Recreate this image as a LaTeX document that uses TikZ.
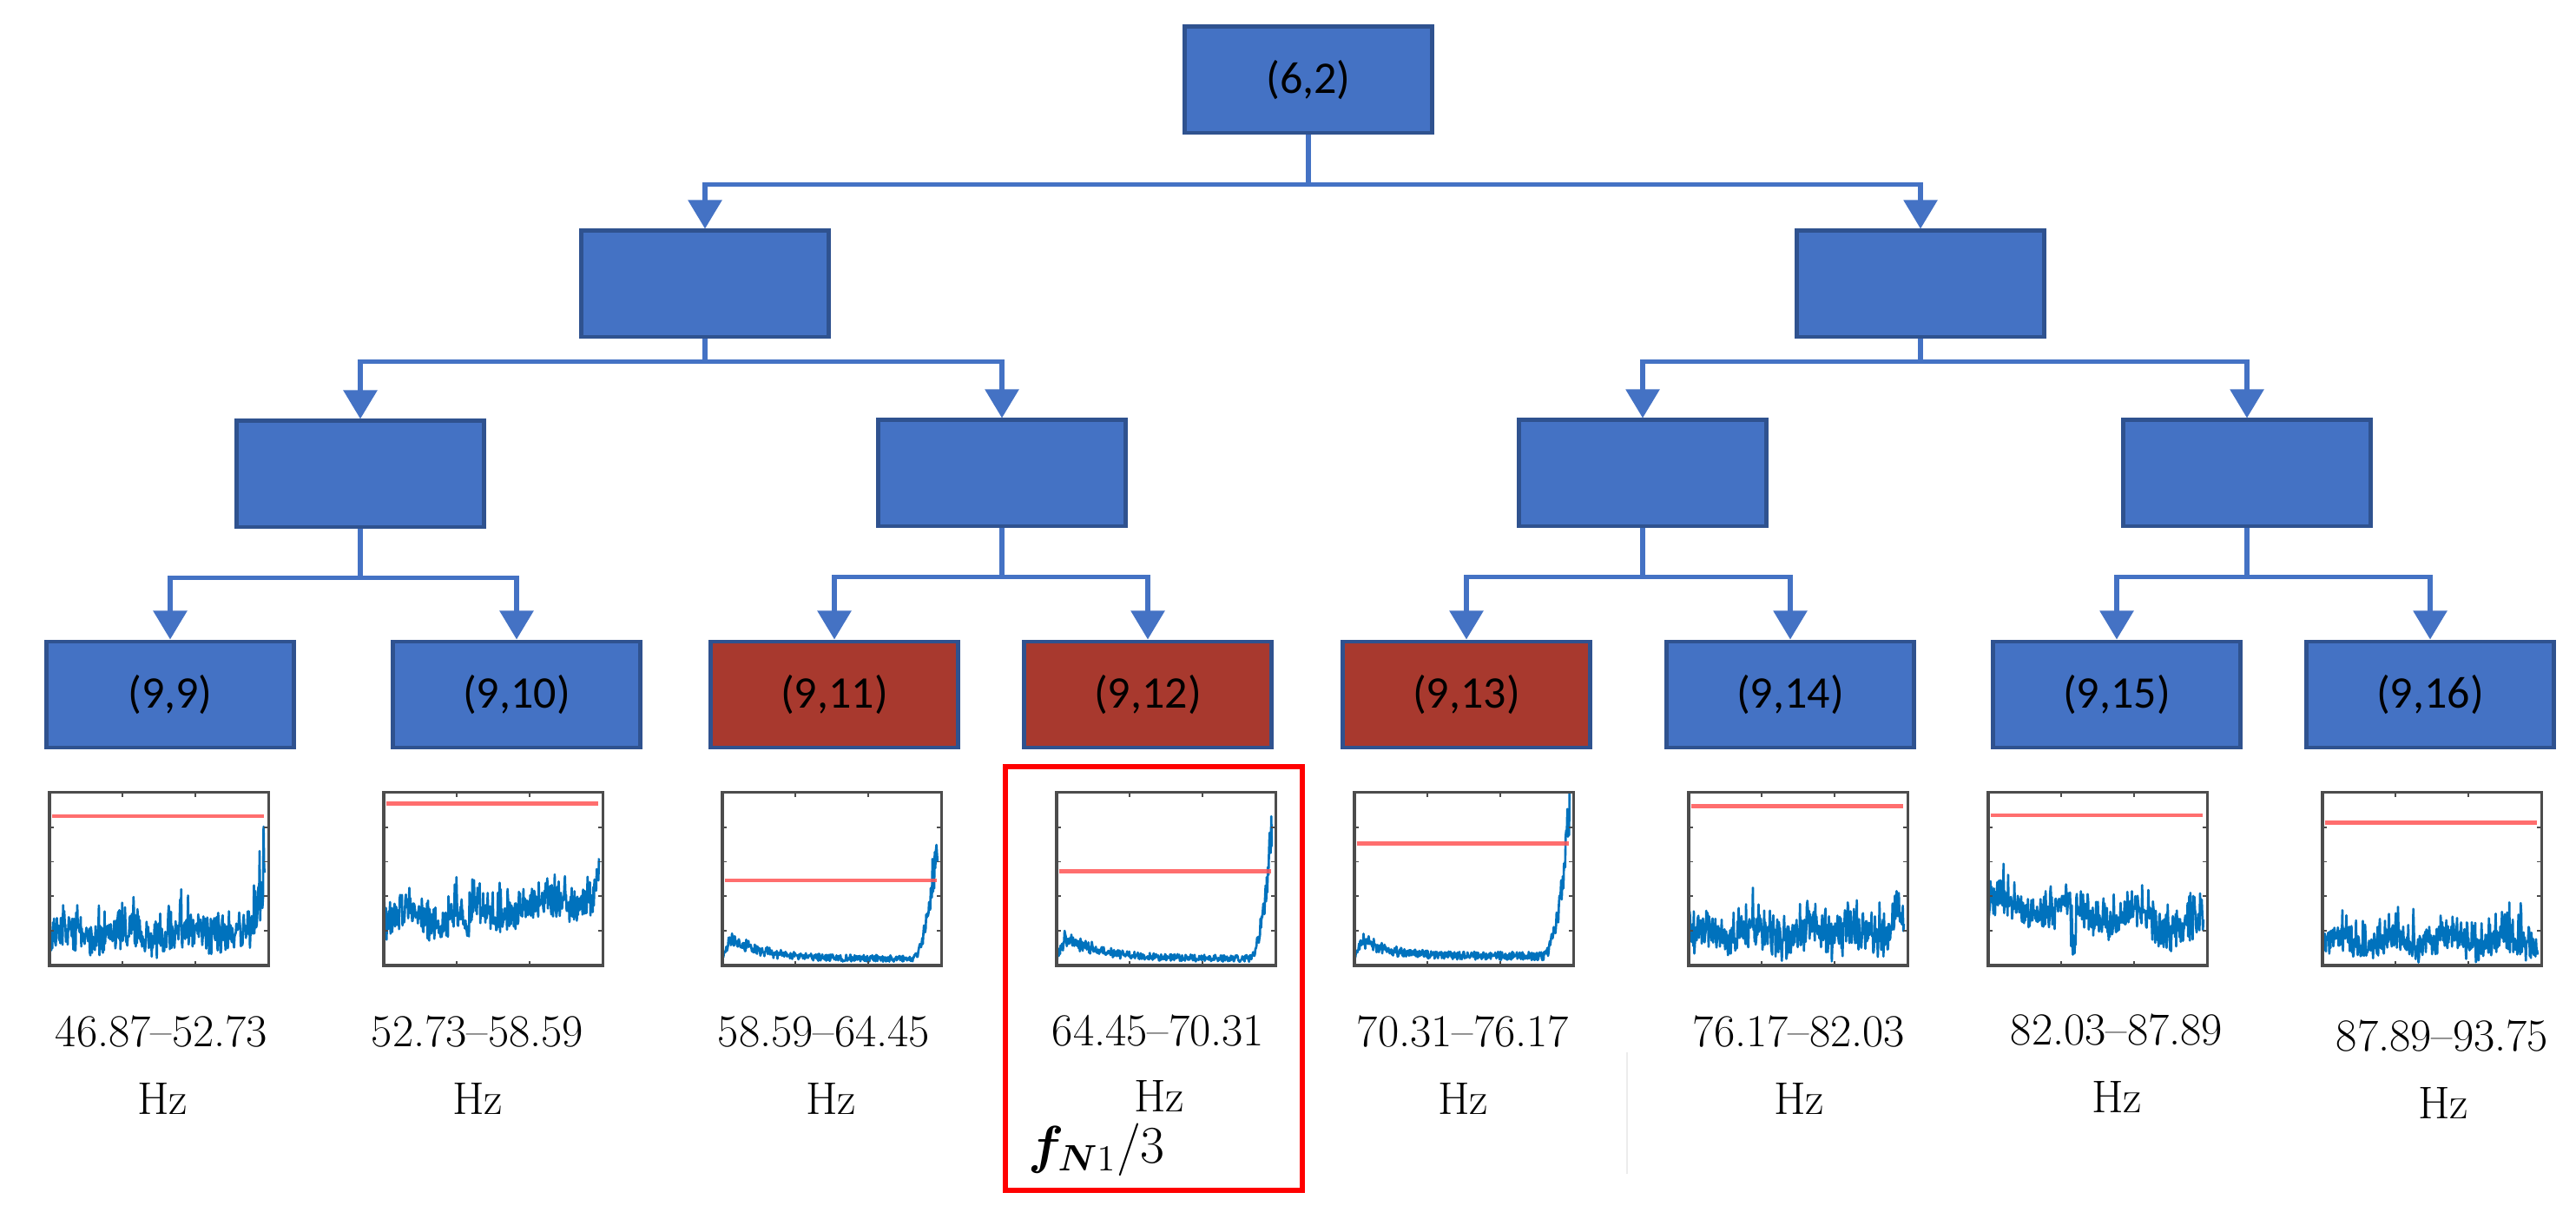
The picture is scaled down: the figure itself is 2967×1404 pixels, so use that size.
\documentclass[tikz,border=0pt]{standalone}
\usepackage{fontspec}
\usepackage{bm}
\newfontfamily\boxfont{Carlito}
\usetikzlibrary{arrows.meta}

\definecolor{boxblue}{RGB}{68,114,196}
\definecolor{boxedge}{RGB}{47,82,143}
\definecolor{boxred}{RGB}{168,57,46}
\definecolor{sigblue}{RGB}{0,114,189}
\definecolor{limred}{RGB}{255,85,85}

\begin{document}
\begin{tikzpicture}[x=0.01cm,y=-0.01cm,
	every node/.style={inner sep=0pt},
	band/.style={draw=boxedge,line width=1.4pt,fill=boxblue,minimum width=2.85cm,minimum height=1.22cm,font=\boxfont\fontsize{14.8}{18}\selectfont},
	link/.style={draw=boxblue,line width=1.6pt,-{Triangle[width=0.38cm,length=0.33cm]}},
	frame/.style={draw=black!70,line width=0.9pt},
	limit/.style={draw=limred,line width=1.4pt,opacity=0.85},
	sig/.style={draw=sigblue,line width=0.75pt,line join=round},
	freq/.style={font=\fontsize{15}{18}\selectfont}]

\useasboundingbox (0,0) rectangle (2967,1404);
\pgfmathsetseed{11}

% decomposition tree
\node[band](root) at (1507,92) {(6,2)};
\node[band](l1a) at (812,327) {};
\node[band](l1b) at (2212,327) {};
\node[band](l2a) at (415,546) {};
\node[band](l2b) at (1154,545) {};
\node[band](l2c) at (1892,545) {};
\node[band](l2d) at (2588,545) {};

\foreach \k/\nx/\fc in {9/196/boxblue,10/595/boxblue,11/961/boxred,12/1322/boxred,13/1689/boxred,14/2062/boxblue,15/2438/boxblue,16/2799/boxblue}{
	\node[band,fill=\fc](leaf\k) at (\nx,800) {(9,\k)};
}

\foreach \p/\c/\d in {root/l1a/57,root/l1b/57,l1a/l2a/26,l1a/l2b/26,l1b/l2c/26,l1b/l2d/26,
	l2a/leaf9/56,l2a/leaf10/56,l2b/leaf11/56,l2b/leaf12/56,l2c/leaf13/56,l2c/leaf14/56,l2d/leaf15/56,l2d/leaf16/56}{
	\draw[link] (\p.south) -- ++(0,\d) -| (\c.north);
}

% spectra of the leaves
\foreach \k/\px/\ry/\f in {
	9/57/0.864/{0.06+0.03*sin(\x*1300)+0.16*rnd+0.22*rnd*rnd+(\x>0.9)*(\x-0.9)*(\x-0.9)*(30+50*rnd)},
	10/442/0.935/{0.12+0.15*\x+0.04*sin(\x*1100)+0.18*rnd+0.2*rnd*rnd-(abs(\x-0.38)<0.01)*0.1+(\x>0.93)*(\x-0.93)*(\x-0.93)*(50+60*rnd)},
	11/832/0.492/{0.02+0.04*rnd+0.17*exp(-7*\x)*((\x<0.04)*25*\x+(\x>0.04))*(0.6+0.6*rnd)+(\x>0.87)*(\x-0.87)*(\x-0.87)*(40+30*rnd)},
	12/1217/0.543/{0.02+0.04*rnd+0.17*exp(-6*\x)*((\x<0.04)*25*\x+(\x>0.04))*(0.6+0.6*rnd)+(\x>0.88)*(\x-0.88)*(\x-0.88)*(45+40*rnd)},
	13/1560/0.704/{0.03+0.05*rnd+0.14*exp(-8*\x)*((\x<0.04)*25*\x+(\x>0.04))*(0.6+0.6*rnd)+(\x>0.86)*(\x-0.86)*(\x-0.86)*(40+28*rnd)},
	14/1945/0.920/{0.05+0.03*sin(\x*1500)+0.18*rnd+0.22*rnd*rnd+(\x>0.9)*(\x-0.9)*(2+3*rnd)*rnd},
	15/2290/0.869/{0.24-0.14*\x+0.05*sin(\x*1200)+0.17*rnd+0.17*rnd*rnd-(abs(\x-0.39)<0.012)*0.2},
	16/2675/0.824/{0.04+0.03*sin(\x*1400)+0.15*rnd+(0.18+0.25*\x)*rnd*rnd*rnd}}{
	\begin{scope}[shift={(\px,1112)},x=2.52cm,y=1.99cm]
		\begin{scope}
			\clip (0,0) rectangle (1,1);
			\draw[sig] plot[domain=0:0.985,samples=380] (\x,{\f});
		\end{scope}
		\draw[limit] (0.01,\ry) -- (0.98,\ry);
		\draw[frame] (0,0) rectangle (1,1);
		\foreach \u in {0.333,0.667}{\draw[frame,line width=0.5pt] (\u,0) -- (\u,0.025) (\u,1) -- (\u,0.975);}
		\foreach \v in {0.2,0.4,0.6,0.8}{\draw[frame,line width=0.5pt] (0,\v) -- (0.02,\v) (1,\v) -- (0.98,\v);}
	\end{scope}
}

\foreach \k/\lx/\hx/\ly/\hy/\txt in {9/186/187/1188/1265/46.87–52.73,10/550/550/1188/1265/52.73–58.59,
	11/949/957/1188/1265/58.59–64.45,12/1334/1335/1187/1262/64.45–70.31,13/1685/1685/1188/1265/70.31–76.17,
	14/2072/2072/1188/1265/76.17–82.03,15/2438/2438/1186/1263/82.03–87.89,16/2813/2814/1193/1270/87.89–93.75}{
	\node[freq](rng\k) at (\lx,\ly) {\txt};
	\node[freq](hz\k) at (\hx,\hy) {Hz};
}

% highlighted band
\draw[red,line width=1.7pt] (1158,883) rectangle (1500,1371);
\node[font=\fontsize{17.5}{21}\selectfont](fN) at (1263,1324) {$\bm{f}_{\bm{N}1}/3$};

\draw[gray!15,line width=0.4pt] (1874,1212) -- (1874,1352);

\end{tikzpicture}
\end{document}
